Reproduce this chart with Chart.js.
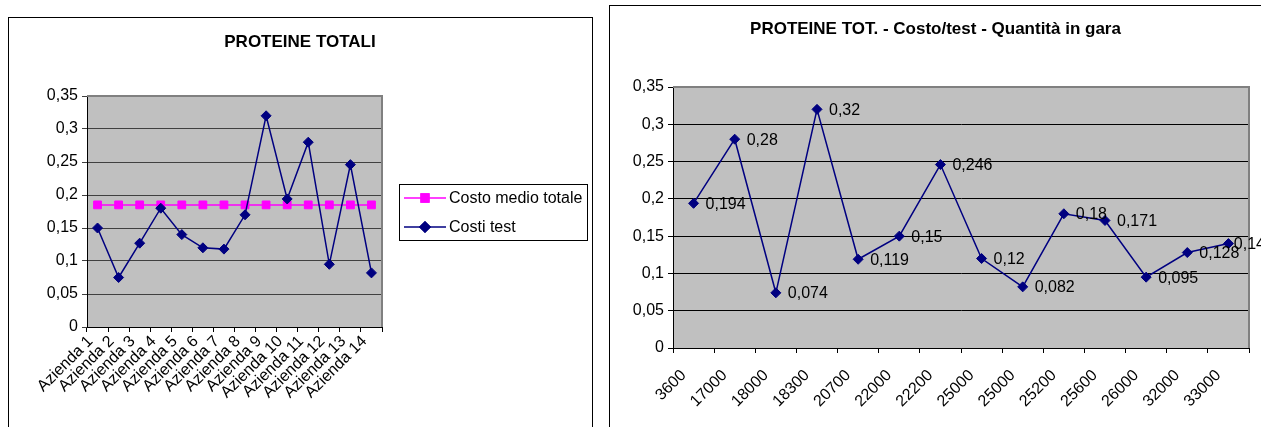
<!DOCTYPE html>
<html>
<head>
<meta charset="utf-8">
<script src="https://cdn.jsdelivr.net/npm/chart.js@4.4.0/dist/chart.umd.min.js"></script>
<style>
    body { margin: 0; background: #fff; width: 1261px; height: 427px; overflow: hidden; position: relative; }
    .frame { position: absolute; border: 1px solid #000; box-sizing: border-box; }
    canvas { position: absolute; }
</style>
</head>
<body>
<div class="frame" style="left:8px;top:17px;width:585px;height:440px;"></div>
<div class="frame" style="left:609px;top:5px;width:700px;height:450px;"></div>
<canvas id="plot-aziende" width="582" height="409" style="left:9px;top:18px;"></canvas>
<canvas id="plot-gara" width="651" height="421" style="left:610px;top:6px;"></canvas>
<script>
// left chart: cost per company
const aziende = ['Azienda 1', 'Azienda 2', 'Azienda 3', 'Azienda 4', 'Azienda 5', 'Azienda 6', 'Azienda 7',
    'Azienda 8', 'Azienda 9', 'Azienda 10', 'Azienda 11', 'Azienda 12', 'Azienda 13', 'Azienda 14'];
const costiTest = [0.15, 0.075, 0.127, 0.18, 0.14, 0.12, 0.118, 0.17, 0.32, 0.194, 0.28, 0.095, 0.246, 0.082];
const costoMedio = [0.185, 0.185, 0.185, 0.185, 0.185, 0.185, 0.185, 0.185, 0.185, 0.185, 0.185, 0.185, 0.185, 0.185];

// right chart: cost per test vs quantity
const quantita = ['3600', '17000', '18000', '18300', '20700', '22000', '22200', '25000', '25000', '25200',
    '25600', '26000', '32000', '33000'];
const costoTest = [0.194, 0.28, 0.074, 0.32, 0.119, 0.15, 0.246, 0.12, 0.082, 0.18, 0.171, 0.095, 0.128, 0.14];

const yTicks = [0, 0.05, 0.1, 0.15, 0.2, 0.25, 0.3, 0.35];

const FONT = 'Arial, "Liberation Sans", sans-serif';
Chart.defaults.font.family = FONT;
Chart.defaults.color = '#000';

function virgola(v) {
    return String(Math.round(v * 1000) / 1000).replace('.', ',');
}

// grey plot area like excel
const plotArea = {
    id: 'plotArea',
    beforeDraw(chart) {
        let a = chart.chartArea;
        let ctx = chart.ctx;
        ctx.save();
        ctx.fillStyle = '#c0c0c0';
        ctx.fillRect(a.left, a.top, a.right - a.left, a.bottom - a.top);
        ctx.restore();
    },
    beforeDatasetsDraw(chart) {
        let a = chart.chartArea;
        let ctx = chart.ctx;
        ctx.save();
        ctx.strokeStyle = '#808080';
        ctx.lineWidth = 2;
        ctx.beginPath();
        ctx.moveTo(a.left, a.top);
        ctx.lineTo(a.right, a.top);
        ctx.lineTo(a.right, a.bottom);
        ctx.stroke();
        ctx.restore();
    }
};

// title centred on the whole canvas (legend space included)
function canvasTitle(text, cy) {
    return {
        id: 'canvasTitle',
        afterDraw(chart) {
            let ctx = chart.ctx;
            ctx.save();
            ctx.font = 'bold 17px ' + FONT;
            ctx.fillStyle = '#000';
            ctx.textAlign = 'center';
            ctx.textBaseline = 'middle';
            ctx.fillText(text, chart.width / 2, cy);
            ctx.restore();
        }
    };
}

// boxed legend with line + marker samples
const boxLegend = {
    id: 'boxLegend',
    afterDraw(chart) {
        let ctx = chart.ctx;
        let x = 390, y = 166, w = 188, h = 56;
        ctx.save();
        ctx.strokeStyle = '#000';
        ctx.lineWidth = 1;
        ctx.strokeRect(x + 0.5, y + 0.5, w, h);
        ctx.font = '16px ' + FONT;
        ctx.textBaseline = 'middle';
        let rows = [chart.data.datasets[0], chart.data.datasets[1]];
        rows.forEach(function(ds, i) {
            let cy = y + 14 + i * 29;
            ctx.strokeStyle = ds.borderColor;
            ctx.lineWidth = 1.5;
            ctx.beginPath();
            ctx.moveTo(x + 5, cy);
            ctx.lineTo(x + 47, cy);
            ctx.stroke();
            Chart.helpers.drawPoint(ctx, {pointStyle: ds.pointStyle, radius: ds.pointRadius, borderWidth: 1}, x + 26, cy);
            ctx.fillStyle = ds.backgroundColor;
            ctx.strokeStyle = ds.borderColor;
            ctx.fill();
            ctx.stroke();
            ctx.fillStyle = '#000';
            ctx.fillText(ds.label, x + 50, cy + 1);
        });
        ctx.restore();
    }
};

// value labels right of each point, pushed back in if they run off the canvas
const valueLabels = {
    id: 'valueLabels',
    afterDatasetsDraw(chart) {
        let ctx = chart.ctx;
        let meta = chart.getDatasetMeta(0);
        ctx.save();
        ctx.font = '16px ' + FONT;
        ctx.fillStyle = '#000';
        ctx.textBaseline = 'middle';
        meta.data.forEach(function(pt, i) {
            let txt = virgola(chart.data.datasets[0].data[i]);
            let w = ctx.measureText(txt).width;
            let x = Math.min(pt.x + 12, chart.width - w + 4);
            ctx.fillText(txt, x, pt.y + 1);
        });
        ctx.restore();
    }
};

function scalesFor(yWidth, xHeight, gridColor, xPad, xShift) {
    return {
        x: {
            offset: true,
            grid: {
                offset: true,
                drawOnChartArea: false,
                tickLength: 5,
                color: '#000'
            },
            border: { color: '#000', width: 1 },
            ticks: {
                autoSkip: false,
                minRotation: 45,
                maxRotation: 45,
                padding: xPad,
                labelOffset: xShift,
                font: { size: 16 }
            },
            afterFit(scale) { scale.height = xHeight; }
        },
        y: {
            min: 0,
            max: 0.35,
            afterBuildTicks(scale) {
                scale.ticks = yTicks.map(function(v) { return {value: v}; });
            },
            grid: {
                color: gridColor,
                tickLength: 5
            },
            border: { color: '#000', width: 1 },
            ticks: {
                padding: 4,
                font: { size: 16 },
                callback: function(value) { return virgola(value); }
            },
            afterFit(scale) { scale.width = yWidth; }
        }
    };
}

function setAziendePlot() {
    let ctx = document.getElementById('plot-aziende').getContext('2d');
    new Chart(ctx, {
        type: 'line',
        data: {
            labels: aziende,
            datasets: [{
                label: 'Costo medio totale',
                data: costoMedio,
                borderColor: '#ff00ff',
                backgroundColor: '#ff00ff',
                borderWidth: 1.5,
                pointStyle: 'rect',
                pointRadius: 5.5,
                pointBorderWidth: 1,
                order: 1
            }, {
                label: 'Costi test',
                data: costiTest,
                borderColor: '#000080',
                backgroundColor: '#000080',
                borderWidth: 1.5,
                pointStyle: 'rectRot',
                pointRadius: 5,
                pointBorderWidth: 1,
                order: 0
            }]
        },
        options: {
            responsive: false,
            animation: false,
            devicePixelRatio: 1,
            layout: { padding: { left: 0, right: 209, top: 78, bottom: 0 } },
            plugins: {
                legend: { display: false },
                tooltip: { enabled: false },
                title: { display: false }
            },
            scales: scalesFor(78, 100, '#404040', 0, -7)
        },
        plugins: [plotArea, boxLegend, canvasTitle('PROTEINE TOTALI', 24)]
    });
}

function setGaraPlot() {
    let ctx = document.getElementById('plot-gara').getContext('2d');
    new Chart(ctx, {
        type: 'line',
        data: {
            labels: quantita,
            datasets: [{
                label: 'Costo/test',
                data: costoTest,
                borderColor: '#000080',
                backgroundColor: '#000080',
                borderWidth: 1.5,
                pointStyle: 'rectRot',
                pointRadius: 5,
                pointBorderWidth: 1
            }]
        },
        options: {
            responsive: false,
            animation: false,
            devicePixelRatio: 1,
            layout: { padding: { left: 0, right: 12, top: 81, bottom: 0 } },
            plugins: {
                legend: { display: false },
                tooltip: { enabled: false },
                title: { display: false }
            },
            scales: scalesFor(63, 79, '#000', 13, -10)
        },
        plugins: [plotArea, valueLabels, canvasTitle('PROTEINE TOT. - Costo/test - Quantità in gara', 23)]
    });
}

setAziendePlot();
setGaraPlot();
</script>
</body>
</html>
